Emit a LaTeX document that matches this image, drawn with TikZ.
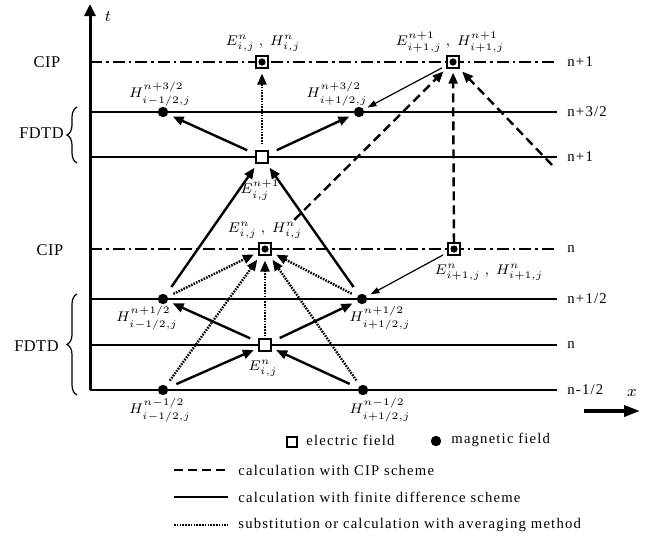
\documentclass[tikz,border=0pt]{standalone}
\usepackage{fontspec}
\setmainfont{Liberation Serif}
\newfontfamily\spacedfont[LetterSpace=8]{Liberation Serif}
\newfontfamily\sidefont[LetterSpace=3]{Liberation Serif}
\usetikzlibrary{arrows.meta,decorations.pathreplacing}

\begin{document}
\begin{tikzpicture}[
    x=0.5pt, y=-0.5pt,
    efield/.style={
        rectangle,
        draw=black,
        line width=0.6pt,
        fill=white,
        minimum size=6pt,
        inner sep=0pt
    },
    hfield/.style={
        circle,
        fill=black,
        minimum size=5.2pt,
        inner sep=0pt
    },
    cipbox/.style={
        efield,
        path picture={\fill[black] (path picture bounding box.center) circle (1.8pt);}
    },
    level/.style={line width=0.8pt},
    ciplevel/.style={line width=1.3pt, dash pattern=on 6pt off 2pt on 1.3pt off 2pt},
    axis/.style={-{Triangle[length=6pt,width=5.5pt]}, line width=1.5pt},
    fdtd/.style={
        -{Triangle[length=5.5pt,width=4.5pt]},
        line width=1.2pt,
        shorten <=4.5pt,
        shorten >=2.5pt
    },
    subst/.style={
        -{Triangle[length=5.5pt,width=4.5pt]},
        line width=1.2pt,
        dash pattern=on 0.8pt off 0.6pt,
        shorten <=3pt,
        shorten >=2.5pt
    },
    cip/.style={
        -{Triangle[length=5.5pt,width=4.5pt]},
        line width=1.2pt,
        dash pattern=on 4.5pt off 2.5pt,
        shorten >=2pt
    },
    thin/.style={
        -{Triangle[length=4.5pt,width=3pt]},
        line width=0.6pt,
        shorten <=2.5pt,
        shorten >=2pt
    },
    fieldlabel/.style={font=\fontsize{7.5}{9}\selectfont, inner sep=0pt},
    levtext/.style={font=\spacedfont\fontsize{7.4}{9}\selectfont, anchor=west, inner sep=0pt},
    sidetext/.style={font=\sidefont\fontsize{8.2}{10}\selectfont, inner sep=0pt},
    legtext/.style={font=\spacedfont\fontsize{7.35}{9}\selectfont, anchor=west, inner sep=0pt},
    brace/.style={decorate, decoration={brace, amplitude=5pt}, line width=0.6pt}
]
\useasboundingbox (0,0) rectangle (663,537);

% time axis
\coordinate (origin) at (90,390);
\coordinate (ttop) at (90,4);
\draw[axis] (origin) -- (ttop);
\node[fieldlabel, font=\fontsize{8.5}{10}\selectfont] (tlbl) at (108,17) {$t$};

% level labels and lines
\node[levtext] (lvA) at (567,62) {n+1};
\node[levtext] (lvB) at (567,112) {n+3/2};
\node[levtext] (lvC) at (567,157) {n+1};
\node[levtext] (lvD) at (567,249) {n};
\node[levtext] (lvE) at (567,299) {n+1/2};
\node[levtext] (lvF) at (567,345) {n};
\node[levtext] (lvG) at (567,390) {n-1/2};

\draw[ciplevel] (origin |- lvA.west) -- ([xshift=-5pt]lvA.west);
\draw[level] (origin |- lvB.west) -- ([xshift=-5pt]lvB.west);
\draw[level] (origin |- lvC.west) -- ([xshift=-5pt]lvC.west);
\draw[ciplevel] (origin |- lvD.west) -- ([xshift=-5pt]lvD.west);
\draw[level] (origin |- lvE.west) -- ([xshift=-5pt]lvE.west);
\draw[level] (origin |- lvF.west) -- ([xshift=-5pt]lvF.west);
\draw[level] (origin |- lvG.west) -- ([xshift=-5pt]lvG.west);

% x direction
\coordinate (xstart) at (584,411);
\coordinate (xend) at (640,411);
\draw[-{Triangle[length=8pt,width=5.5pt]}, line width=1.8pt] (xstart) -- (xend);
\node[fieldlabel, font=\fontsize{8.5}{10}\selectfont] (xlbl) at (632,393) {$x$};

% left side labels
\node[sidetext] (cipA) at (47,62) {CIP};
\node[sidetext] (cipB) at (50,250) {CIP};
\node[sidetext, anchor=east] (fdtdA) at (64,133) {FDTD};
\node[sidetext, anchor=east] (fdtdB) at (59,346) {FDTD};
\draw[brace] (77,163) -- (77,107);
\draw[brace] (77,395) -- (77,294);

% field points
\node[cipbox] (cipN1) at (262,62) {};
\node[cipbox] (cipN1R) at (453,62) {};
\node[hfield] (h32L) at (163,112) {};
\node[hfield] (h32R) at (359,112) {};
\node[efield] (eN1) at (262,157) {};
\node[cipbox] (cipN) at (265,249) {};
\node[cipbox] (cipNR) at (454,249) {};
\node[hfield] (h12L) at (163,299) {};
\node[hfield] (h12R) at (362,299) {};
\node[efield] (eN) at (265,345) {};
\node[hfield] (hm12L) at (163,390) {};
\node[hfield] (hm12R) at (363,390) {};
\coordinate (cipfree) at (552,165);

% field labels
\node[fieldlabel] (lcipN1) at (263,43) {$E^{n}_{i,j}\ ,\ H^{n}_{i,j}$};
\node[fieldlabel] (lcipN1R) at (450,42) {$E^{n+1}_{i+1,j}\ ,\ H^{n+1}_{i+1,j}$};
\node[fieldlabel] (lh32L) at (160,94) {$H^{n+3/2}_{i-1/2,j}$};
\node[fieldlabel] (lh32R) at (337,94) {$H^{n+3/2}_{i+1/2,j}$};
\node[fieldlabel] (leN1) at (260,190) {$E^{n+1}_{i,j}$};
\node[fieldlabel] (lcipN) at (265,230) {$E^{n}_{i,j}\ ,\ H^{n}_{i,j}$};
\node[fieldlabel] (lcipNR) at (489,272) {$E^{n}_{i+1,j}\ ,\ H^{n}_{i+1,j}$};
\node[fieldlabel] (lh12L) at (147,318) {$H^{n+1/2}_{i-1/2,j}$};
\node[fieldlabel] (lh12R) at (380,318) {$H^{n+1/2}_{i+1/2,j}$};
\node[fieldlabel] (leN) at (263,368) {$E^{n}_{i,j}$};
\node[fieldlabel] (lhm12L) at (160,410) {$H^{n-1/2}_{i-1/2,j}$};
\node[fieldlabel] (lhm12R) at (380,410) {$H^{n-1/2}_{i+1/2,j}$};

% finite difference updates
\draw[fdtd] (eN1) -- (h32L);
\draw[fdtd] (eN1) -- (h32R);
\draw[fdtd] (h12L) -- (eN1);
\draw[fdtd] (h12R) -- (eN1);
\draw[fdtd] (eN) -- (h12L);
\draw[fdtd] (eN) -- (h12R);
\draw[fdtd] (hm12L) -- (eN);
\draw[fdtd] (hm12R) -- (eN);

% substitution / averaging
\draw[subst] (eN1) -- (cipN1);
\draw[subst] (h12L) -- (cipN);
\draw[subst] (h12R) -- (cipN);
\draw[subst, shorten <=1pt] (eN) -- (cipN);
\draw[subst] (hm12L) -- (cipN);
\draw[subst] (hm12R) -- (cipN);

% CIP scheme
\draw[cip, shorten <=16pt] (cipN) -- (cipN1R);
\draw[cip] (cipNR) -- (cipN1R);
\draw[cip] (cipfree) -- (cipN1R);
\draw[thin] (cipN1R) -- (h32R);
\draw[thin] (cipNR) -- (h12R);

% legend
\node[efield, minimum size=5pt] (legE) at (292,442) {};
\node[legtext] (legEtxt) at (306,440) {electric field};
\node[hfield] (legH) at (436,441) {};
\node[legtext] (legHtxt) at (451,440) {magnetic field};
\node[legtext] (legcip) at (238,470) {calculation with CIP scheme};
\node[legtext] (legfd) at (238,497) {calculation with finite difference scheme};
\node[legtext] (legsub) at (238,525) {substitution or calculation with averaging method};
\draw[line width=1.2pt, dash pattern=on 4.5pt off 2.5pt] ([xshift=-32pt]legcip.west) -- ([xshift=-5pt]legcip.west);
\draw[line width=0.6pt] ([xshift=-32pt]legfd.west) -- ([xshift=-5pt]legfd.west);
\draw[line width=1.2pt, dash pattern=on 0.8pt off 0.6pt] ([xshift=-32pt]legsub.west) -- ([xshift=-5pt]legsub.west);

\end{tikzpicture}
\end{document}
